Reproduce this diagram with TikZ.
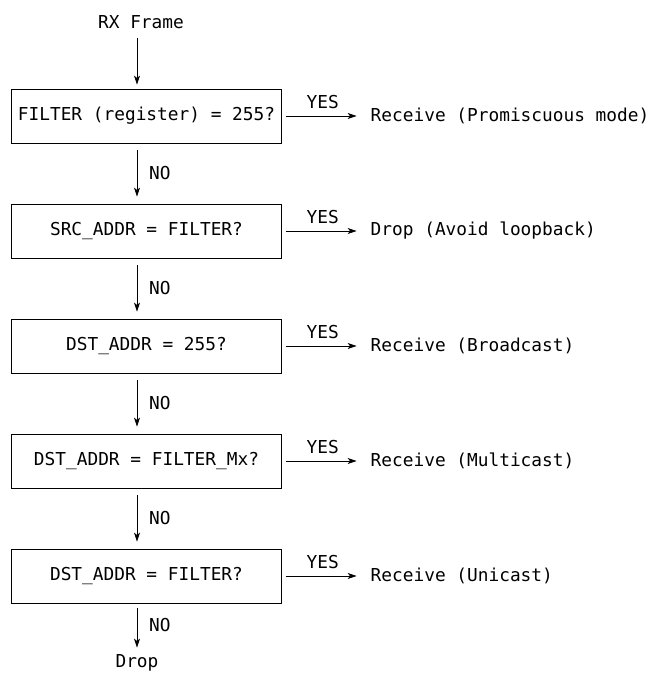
\documentclass[tikz,border=0pt]{standalone}
\usepackage{fontspec}
\setmonofont{DejaVu Sans Mono}
\usetikzlibrary{positioning, arrows.meta}
\tikzset{
    >={Stealth[length=4.5pt, width=3pt, inset=1.2pt]}, % narrow filled arrow heads
    every node/.style={font=\fontsize{8.9}{11}\selectfont\ttfamily}, % all text in mono
    test/.style={draw, minimum width=134.75pt, minimum height=27pt, inner sep=0pt}, % the decision boxes
    yes/.style={->, shorten <=2pt, shorten >=3.5pt}, % arrow to the right
    no/.style={->, shorten <=3.5pt, shorten >=3.5pt}, % arrow down
    node distance=57.5pt, % distance between two boxes
}

\begin{document}
\begin{tikzpicture}[x=0.5pt, y=-0.5pt]
    \useasboundingbox (0,0) rectangle (649,682);
    \node (rx) at (141,22) {RX Frame};
    \node[test] (f1) at (146.5,116) {FILTER (register) = 255?};
    \node[test, below of=f1] (f2) {SRC\_ADDR = FILTER?};
    \node[test, below of=f2] (f3) {DST\_ADDR = 255?};
    \node[test, below of=f3] (f4) {DST\_ADDR = FILTER\_Mx?};
    \node[test, below of=f4] (f5) {DST\_ADDR = FILTER?};
    \node (drop) at (137,663) {Drop};
    \node[right=41pt of f1] (r1) {Receive (Promiscuous mode)};
    \node[right=41pt of f2] (r2) {Drop (Avoid loopback)};
    \node[right=41pt of f3] (r3) {Receive (Broadcast)};
    \node[right=41pt of f4] (r4) {Receive (Multicast)};
    \node[right=41pt of f5] (r5) {Receive (Unicast)};
    \draw[->, shorten <=1pt, shorten >=2pt] (rx.south -| drop) -- (f1.north -| drop);
    \draw[no] (f1.south -| drop) -- node[right=2.5pt]{NO} (f2.north -| drop);
    \draw[no] (f2.south -| drop) -- node[right=2.5pt]{NO} (f3.north -| drop);
    \draw[no] (f3.south -| drop) -- node[right=2.5pt]{NO} (f4.north -| drop);
    \draw[no] (f4.south -| drop) -- node[right=2.5pt]{NO} (f5.north -| drop);
    \draw[->, shorten <=2.5pt] (f5.south -| drop) -- node[right=2.5pt]{NO} (drop);
    \draw[yes] (f1) -- node[above]{YES} (r1);
    \draw[yes] (f2) -- node[above]{YES} (r2);
    \draw[yes] (f3) -- node[above]{YES} (r3);
    \draw[yes] (f4) -- node[above]{YES} (r4);
    \draw[yes] (f5) -- node[above]{YES} (r5);
\end{tikzpicture}
\end{document}
